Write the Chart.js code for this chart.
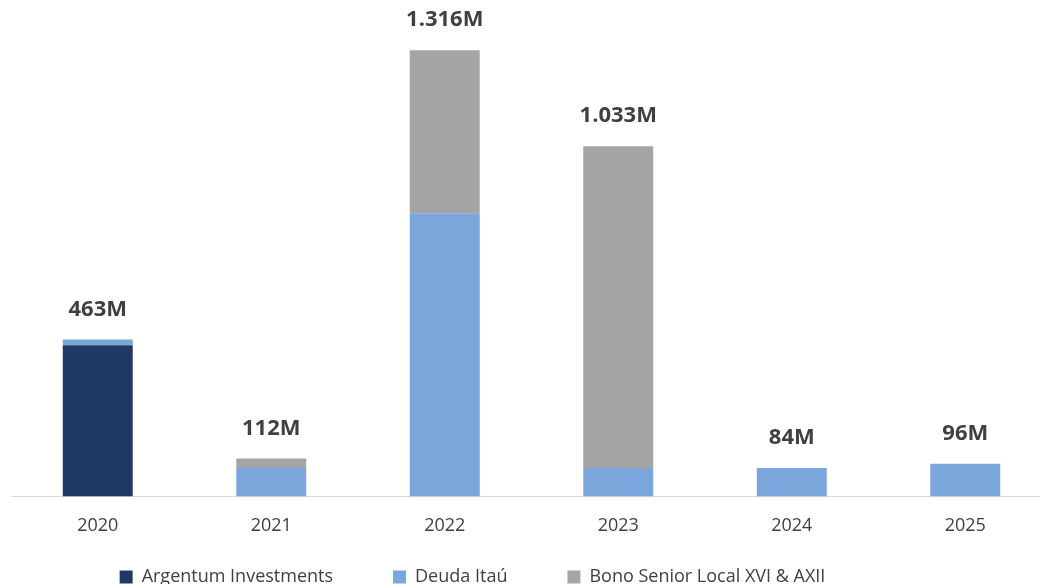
<!DOCTYPE html>
<html>
<head>
<meta charset="utf-8">
<script src="https://cdn.jsdelivr.net/npm/chart.js@4"></script>
<style>
  html, body { margin: 0; padding: 0; background: #fff; overflow: hidden; }
  #wrap { position: absolute; left: -107px; top: 0; width: 1159px; height: 644px; }
</style>
</head>
<body>
<div id="wrap"><canvas id="debt-chart"></canvas></div>
<script>
const years = ['2020', '2021', '2022', '2023', '2024', '2025'];
const argentum = [446, 0, 0, 0, 0, 0];
const deudaItau = [17, 84, 835, 84, 84, 96];
const bonoSenior = [0, 28, 481, 949, 0, 0];

const fontFamily = '"Open Sans", "Noto Sans", sans-serif';

// M with thousands separated by '.'
function fmtTotal(v) {
    const s = String(Math.round(v));
    return s.replace(/\B(?=(\d{3})+(?!\d))/g, '.') + 'M';
}

const totalsPlugin = {
    id: 'totals',
    // wide legend padding spaces the items out, pull the legend back up closer to the axis
    afterLayout(chart) {
        chart.legend.top -= 48;
        chart.legend.bottom -= 48;
    },
    afterDatasetsDraw(chart) {
        const ctx = chart.ctx;
        const x = chart.scales.x, y = chart.scales.y;
        ctx.save();
        ctx.font = 'bold 22px ' + fontFamily;
        ctx.fillStyle = '#404040';
        ctx.textAlign = 'center';
        ctx.textBaseline = 'middle';
        years.forEach((yr, i) => {
            const total = argentum[i] + deudaItau[i] + bonoSenior[i];
            ctx.fillText(fmtTotal(total), x.getPixelForValue(i), y.getPixelForValue(total) - 30);
        });
        ctx.restore();
    }
};

const ctx = document.getElementById('debt-chart').getContext('2d');
const chart = new Chart(ctx, {
    type: 'bar',
    data: {
        labels: years,
        datasets: [{
            label: 'Argentum Investments',
            data: argentum,
            backgroundColor: '#1F3864'
        }, {
            label: 'Deuda Itaú',
            data: deudaItau,
            backgroundColor: '#7BA6DB'
        }, {
            label: 'Bono Senior Local XVI & AXII',
            data: bonoSenior,
            backgroundColor: '#A5A5A5'
        }]
    },
    options: {
        responsive: true,
        maintainAspectRatio: false,
        animation: false,
        layout: { padding: { top: 0, bottom: 0 } },
        datasets: {
            bar: { categoryPercentage: 0.8, barPercentage: 0.504 }
        },
        plugins: {
            legend: {
                position: 'bottom',
                labels: {
                    boxWidth: 13,
                    boxHeight: 13,
                    padding: 60,
                    color: '#404040',
                    font: { family: fontFamily, size: 18 }
                }
            },
            tooltip: { enabled: false }
        },
        scales: {
            x: {
                stacked: true,
                grid: { display: false, drawTicks: false },
                border: { display: true, color: '#D9D9D9', width: 1 },
                ticks: {
                    padding: 19,
                    color: '#404040',
                    font: { family: fontFamily, size: 18 }
                }
            },
            y: {
                stacked: true,
                min: 0,
                max: 1464,
                grid: { display: false },
                border: { display: false },
                ticks: { display: false },
                afterFit(scale) { scale.width = 118; }
            }
        }
    },
    plugins: [ totalsPlugin ]
});
</script>
</body>
</html>
